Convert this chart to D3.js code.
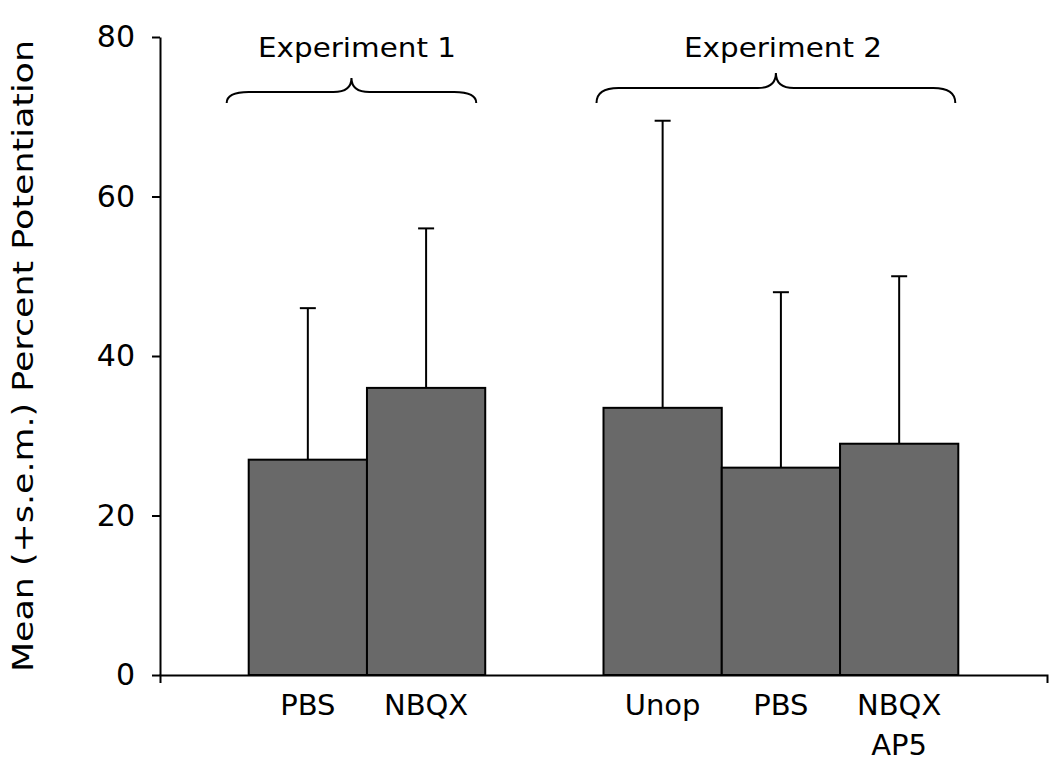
<!DOCTYPE html>
<html><head><meta charset="utf-8">
<script src="https://cdn.jsdelivr.net/npm/d3@7"></script>
<style>body{margin:0;background:#fff}svg{display:block}text{font-family:"DejaVu Sans",Verdana,sans-serif;fill:#000}</style>
</head><body>
<svg id="c" width="1050" height="757"></svg>
<script>
const categories = ["PBS", "NBQX", "", "Unop", "PBS ", "NBQX AP5"];
const labelLines = [["PBS"], ["NBQX"], [], ["Unop"], ["PBS"], ["NBQX", "AP5"]];
const means = [27, 36, null, 33.5, 26, 29];
const sems = [19, 20, null, 36, 22, 21];
const yTicks = [0, 20, 40, 60, 80];
const groups = ["Experiment 1", "Experiment 2"];
const yLabel = "Mean (+s.e.m.) Percent Potentiation";

const svg = d3.select("#c");
const x = d3.scaleBand().domain(categories).range([160, 1047]).paddingInner(0).paddingOuter(0.75);
const y = d3.scaleLinear().domain([0, 80]).range([675, 37]);

const data = categories.map((c, i) => ({c, m: means[i], s: sems[i], lines: labelLines[i]})).filter(d => d.m != null);

// bars
svg.append("g").selectAll("rect").data(data).join("rect")
  .attr("x", d => x(d.c)).attr("width", x.bandwidth())
  .attr("y", d => y(d.m)).attr("height", d => y(0) - y(d.m))
  .attr("fill", "#696969").attr("stroke", "#000").attr("stroke-width", 2);

// error bars
const eb = svg.append("g").attr("stroke", "#000").attr("stroke-width", 2);
eb.selectAll("line.v").data(data).join("line").attr("class", "v")
  .attr("x1", d => x(d.c) + x.bandwidth() / 2).attr("x2", d => x(d.c) + x.bandwidth() / 2)
  .attr("y1", d => y(d.m)).attr("y2", d => y(d.m + d.s));
eb.selectAll("line.h").data(data).join("line").attr("class", "h")
  .attr("x1", d => x(d.c) + x.bandwidth() / 2 - 8).attr("x2", d => x(d.c) + x.bandwidth() / 2 + 8)
  .attr("y1", d => y(d.m + d.s)).attr("y2", d => y(d.m + d.s));

// axes
const yAxis = svg.append("g").attr("transform", "translate(160,0)")
  .call(d3.axisLeft(y).tickValues(yTicks).tickSize(8).tickSizeOuter(0).tickPadding(17));
const xAxis = svg.append("g").attr("transform", "translate(0,675)")
  .call(d3.axisBottom(x).tickValues([]).tickSizeOuter(8));
[yAxis, xAxis].forEach(g => {
  g.selectAll("path,line").attr("stroke", "#000").attr("stroke-width", 2);
  g.selectAll("text").attr("font-size", 30).attr("font-family", "DejaVu Sans");
});

// category labels
const lab = svg.append("g").attr("font-size", 29).attr("text-anchor", "middle");
data.forEach(d => {
  d.lines.forEach((t, k) => {
    lab.append("text").attr("x", x(d.c) + x.bandwidth() / 2).attr("y", 715 + k * 40).text(t);
  });
});

// y label
svg.append("text").attr("transform", "translate(33,356) rotate(-90)")
  .attr("text-anchor", "middle").attr("font-size", 29)
  .attr("textLength", 632).attr("lengthAdjust", "spacingAndGlyphs").text(yLabel);

// braces
function brace(x1, x2, xm, yEnd, yH, yTip) {
  const r = 22, rm = 18;
  return `M${x1},${yEnd} Q${x1},${yH} ${x1 + r},${yH} L${xm - rm},${yH} Q${xm},${yH} ${xm},${yTip} Q${xm},${yH} ${xm + rm},${yH} L${x2 - r},${yH} Q${x2},${yH} ${x2},${yEnd}`;
}
const braceSpec = [
  {x1: x("PBS") - 22, x2: x("NBQX") + x.bandwidth() - 9, yH: 92, yTip: 78, tx: 357},
  {x1: x("Unop") - 7, x2: x("NBQX AP5") + x.bandwidth() - 3, yH: 88, yTip: 73, tx: 783}
];
braceSpec.forEach((b, i) => {
  const xm = (b.x1 + b.x2) / 2;
  svg.append("path").attr("d", brace(b.x1, b.x2, xm, 103, b.yH, b.yTip))
    .attr("fill", "none").attr("stroke", "#000").attr("stroke-width", 2);
  svg.append("text").attr("x", b.tx).attr("y", 57).attr("text-anchor", "middle")
    .attr("font-size", 27).attr("textLength", 198).attr("lengthAdjust", "spacingAndGlyphs")
    .text(groups[i]);
});
</script>
</body></html>
